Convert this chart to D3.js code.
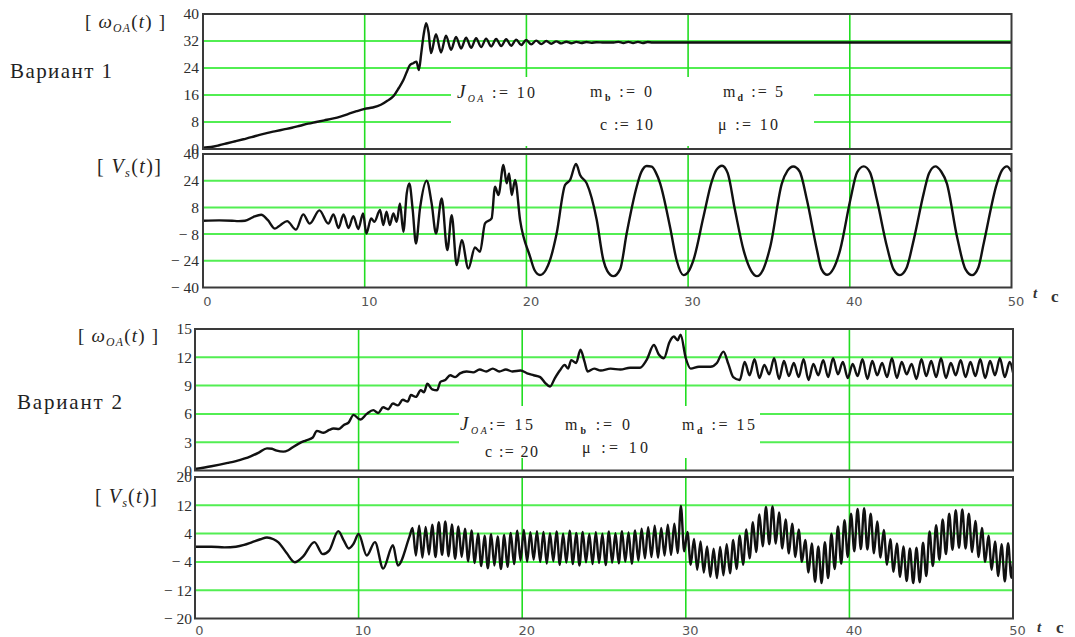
<!DOCTYPE html>
<html>
<head>
<meta charset="utf-8">
<script src="https://cdn.jsdelivr.net/npm/d3@7"></script>
<style>
  body { margin: 0; background: #fff; }
  svg { display: block; }
</style>
</head>
<body>
<div id="chart"></div>
<script>
// ---- data ----
const timeTicks = [0, 10, 20, 30, 40, 50];
const w1Ticks = [0, 8, 16, 24, 32, 40];
const vs1Ticks = [-40, -24, -8, 8, 24, 40];
const w2Ticks = [0, 3, 6, 9, 12, 15];
const vs2Ticks = [-20, -12, -4, 4, 12, 20];

// variant 1, omega_OA
const w1Head = [[0,0.4],[0.5,0.6],[1,1.1],[1.5,1.7],[2,2.3],[2.5,2.9],[3,3.5],[3.5,4.2],[4,4.8],[4.5,5.3],
  [5,5.8],[5.5,6.3],[6,6.9],[6.5,7.5],[7,8.0],[7.5,8.5],[8,9.0],[8.5,9.6],[9,10.4],[9.5,11.2],[10,11.9],
  [10.5,12.3],[11,13.1],[11.4,14.3],[11.8,15.8],[12.1,18.0],[12.4,20.5],[12.6,22.8],[12.8,24.9],[13.0,25.4],
  [13.2,25.9],[13.35,23.4],[13.5,28.5],[13.65,34],[13.8,37.3],[13.95,34.5]];
const w1RipT0 = 14.1, w1RipDt = 0.31;
const w1Rip = [28.4,34.0,28.6,33.6,29.4,33.2,29.8,33.0,30.0,32.8,30.2,32.7,30.4,32.6,30.5,32.5,30.6,32.4,
  30.8,32.3,31.0,32.1,31.1,32.0,31.2,31.9,31.3,31.8,31.35,31.75,31.4,31.7,31.45,31.65];
const w1Tail = [[24.8,31.55],[25.4,31.55],[25.7,31.75],[26.0,31.4],[26.3,31.75],[26.6,31.4],[26.9,31.75],
  [27.2,31.4],[27.5,31.7],[27.8,31.55],[50,31.55]];

// variant 1, V_s
const vs1 = [[0,0],[1,0.2],[1.8,0],[2.2,-0.2],[2.6,0],[3.1,2.2],[3.6,3.6],[4.0,0.5],[4.45,-4.7],[4.8,-2.5],
  [5.2,-0.2],[5.75,-5.3],[6.2,3.8],[6.6,-1.7],[7.2,6.2],[7.75,-1.7],[8.07,3.8],[8.38,-4.3],[8.69,3.8],[9.0,-4.3],
  [9.3,2.8],[9.6,-4.9],[9.9,4.4],[10.1,-7.6],[10.4,1.4],[10.6,-0.6],[10.95,6.4],[11.15,-2.6],[11.35,5.4],
  [11.55,-2.6],[11.77,4.4],[11.98,-0.6],[12.18,10.4],[12.39,-6.6],[12.6,16.4],[12.76,22.4],[12.97,6.4],
  [13.17,-13.6],[13.42,7.4],[13.83,24],[14.14,10.4],[14.41,-7.6],[14.76,13.4],[15.11,-17.6],[15.38,3.4],
  [15.69,-26.6],[16.0,-11.6],[16.41,-28.6],[16.82,-16],[17.13,-18.6],[17.44,-1.6],[17.85,1.4],[18.06,20.4],
  [18.27,15.4],[18.58,33.4],[18.78,22.4],[18.93,28.4],[19.09,15.4],[19.3,24.4],[19.61,0.4],[20.23,-21.6],
  [20.5,-29.5],[20.84,-32.5],[21.2,-29.5],[21.46,-23.6],[21.87,-7.6],[22.39,21.4],[22.7,24.4],[23.07,34],
  [23.32,27.4],[23.73,22.4],[24.35,0.4],[24.76,-23.6],[25.0,-30],[25.38,-33.2],[25.8,-29],[26.2,-7.6],
  [26.82,20.4],[27.1,29],[27.44,32.8],[27.75,32.4],[28.0,29],[28.27,22.4],[28.88,-3.6],[29.3,-24],[29.71,-32.6],
  [30.05,-30],[30.33,-23.6],[30.95,2.4],[31.46,23.4],[31.75,30.5],[32.1,33],[32.45,28.5],[32.9,6.4],
  [33.43,-17.6],[33.9,-30],[34.26,-33.2],[34.65,-29],[35.08,-15.6],[35.8,22.4],[36.15,30],[36.5,32.5],
  [36.9,29.5],[37.35,12.4],[37.97,-17.6],[38.25,-29],[38.6,-32.4],[39.0,-28.5],[39.4,-17.6],[40.03,12.4],
  [40.45,29],[40.86,32.6],[41.25,29],[41.68,12.4],[42.3,-15.6],[42.7,-29],[43.1,-32.6],[43.5,-28.5],
  [43.95,-11.6],[44.57,16.4],[44.9,28.5],[45.29,32.6],[45.65,29.5],[46.0,22.4],[46.63,-9.6],[47.15,-29],
  [47.56,-32.6],[47.95,-28],[48.28,-13.6],[49.1,22.4],[49.4,30],[49.72,32.6],[50,29.4]];

// variant 2, omega_OA
const w2Head = [[0,0.16],[1,0.45],[2,0.8],[2.5,1.0],[3,1.25],[3.4,1.5],[3.9,1.9],[4.4,2.35],[4.7,2.3],[5.0,2.1],
  [5.4,2.0],[5.7,2.15],[6.0,2.5],[6.4,2.9],[6.8,3.2],[7.2,3.5],[7.45,4.2],[7.86,4.0],[8.2,4.3],[8.47,4.45],
  [8.8,4.4],[9.08,4.8],[9.4,5.1],[9.69,5.9],[10.1,5.4],[10.5,6.0],[10.9,6.4],[11.2,6.1],[11.5,6.7],[11.8,6.5],
  [12.1,7.1],[12.4,6.9],[12.7,7.5],[13.0,7.3],[13.2,8.0],[13.5,7.8],[13.8,8.5],[14.0,8.3],[14.2,9.2],[14.5,8.6],
  [14.8,8.5],[15.0,9.4],[15.3,9.6],[15.6,10.1],[15.9,9.9],[16.2,10.3],[16.6,10.5],[17.0,10.4],[17.4,10.7],
  [17.8,10.5],[18.2,10.8],[18.6,10.5],[19.0,10.7],[19.4,10.5],[19.9,10.6],[20.3,10.3],[20.7,10.1],[21.1,9.9],
  [21.4,9.3],[21.7,8.9],[22.0,9.8],[22.3,10.6],[22.6,11.2],[22.8,10.8],[23.0,11.7],[23.3,11.4],[23.56,12.8],
  [23.8,11.6],[24.0,10.5],[24.4,10.8],[24.8,10.6],[25.4,10.8],[26.0,10.7],[26.6,10.9],[27.2,10.9],[27.6,11.7],
  [28.05,13.3],[28.35,12.3],[28.66,11.9],[29.0,13.6],[29.27,14.2],[29.5,13.8],[29.68,14.4],[30.0,11.9],
  [30.3,10.8],[30.8,11.0],[31.5,11.0],[31.9,11.4],[32.3,12.6],[32.6,11.3],[32.9,9.9],[33.3,9.6]];
const w2RipT0 = 33.6, w2RipDt = 0.3;
const w2Rip = [11.5,10.1,11.8,9.8,11.2,10.2,11.9,9.7,11.6,10.0,11.4,9.9,11.8,9.6,11.3,10.1,11.7,9.9,11.9,10.2,
  11.5,9.8,11.3,10.0,11.8,9.7,11.6,10.1,11.4,9.9,11.9,9.8,11.5,10.2,11.3,9.7,11.8,10.0,11.6,9.9,
  11.9,9.8,11.4,10.1,11.7,9.9,11.5,10.0,11.8,9.8,11.6,10.1,11.9,9.9,11.5];
const w2Tail = [[50,10.4]];

// variant 2, V_s
const vs2Head = [[0,0.3],[1,0.3],[1.8,0.1],[2.5,0.3],[3.0,0.8],[3.5,1.6],[4.0,2.4],[4.4,2.9],[4.8,2.4],[5.1,1.5],
  [5.6,-1.5],[6.1,-4.1],[6.6,-2.5],[7.3,1.6],[7.8,-1.8],[8.2,-0.8],[8.76,4.7],[9.1,2.0],[9.4,-0.2],[9.7,1.2],
  [10.0,3.9],[10.5,-2.2],[11.0,1.6],[11.5,-5.9],[12.1,0.7],[12.4,-5.0],[13.1,3.0]];
const vs2ZigT0 = 13.3, vs2ZigDt = 0.2;
const vs2Zig = [
  5.6,-2.2,6.2,-2.8,5.9,-1.9,6.5,-2.6,7.2,-2.0,
  7.4,-2.4,6.6,-3.1,6.0,-2.6,5.4,-3.8,4.9,-4.3,
  4.0,-5.2,3.4,-5.8,3.8,-5.0,3.2,-6.0,3.6,-5.4,
  4.2,-4.6,4.8,-3.6,5.0,-3.9,4.4,-3.4,4.7,-4.0,
  4.5,-4.5,4.1,-3.8,4.6,-4.8,4.0,-4.2,4.8,-4.6,
  4.2,-5.0,4.5,-4.1,3.9,-4.6,4.4,-4.3,4.0,-4.9,
  4.6,-4.2,4.1,-4.4,4.7,-3.9,4.3,-4.5,4.9,-3.6,
  5.4,-3.0,5.8,-2.6,6.2,-2.8,5.6,-2.2,6.5,-2.0,
  6.8,-1.5,11.8,-1.0,4.5,-4.8,2.5,-6.2,1.8,-7.0,
  0.4,-8.2,-0.3,-8.6,0.2,-7.8,1.0,-7.2,2.2,-6.0,
  3.5,-4.8,5.2,-3.0,7.2,-1.2,9.4,0.4,11.5,1.0,
  11.7,1.2,10.0,-0.2,8.0,-1.6,6.8,-2.6,5.2,-4.0,
  2.2,-7.0,1.2,-9.6,0.4,-10.0,1.6,-8.6,4.0,-6.0,
  6.0,-4.5,7.8,-2.6,9.6,-1.0,11.0,-0.4,11.2,-0.5,
  9.6,-1.6,7.4,-2.8,5.0,-4.8,2.4,-6.8,1.2,-8.2,
  0.4,-9.4,-0.2,-10.0,0.0,-9.8,1.4,-8.0,4.6,-5.2,
  6.4,-3.4,8.0,-1.8,9.6,-0.6,10.6,0.0,10.8,-0.2,
  9.6,-1.2,7.6,-2.6,5.6,-4.0,3.4,-6.2,1.8,-8.0,
  1.0,-9.5,1.3,-8.5];
const vs2Tail = [[50,-4]];

// ---- drawing ----
const width = 1075, height = 637;
const serif = "'Liberation Serif', 'Times New Roman', serif";
const sans = "'DejaVu Sans', Verdana, sans-serif";

const svg = d3.select("#chart").append("svg")
  .attr("width", width)
  .attr("height", height);

// sampled stretches come with a start time and a step
function sampled(t0, dt, values) {
  return values.map((v, i) => [t0 + i * dt, v]);
}

const panels = [
  { id: "p1", box: [203, 14, 1011.5, 149], yTicks: w1Ticks, pad: 4,
    data: w1Head.concat(sampled(w1RipT0, w1RipDt, w1Rip), w1Tail),
    xLabels: false, blank: [451, 77, 814, 146] },
  { id: "p2", box: [203, 154, 1011.5, 287.5], yTicks: vs1Ticks, pad: 4,
    data: vs1, xLabels: true, labelPad: 9 },
  { id: "p3", box: [195, 329, 1013, 470.5], yTicks: w2Ticks, pad: 3,
    data: w2Head.concat(sampled(w2RipT0, w2RipDt, w2Rip), w2Tail),
    xLabels: false, blank: [459, 406, 760, 458] },
  { id: "p4", box: [195, 477, 1013, 618.5], yTicks: vs2Ticks, pad: 3,
    data: vs2Head.concat(sampled(vs2ZigT0, vs2ZigDt, vs2Zig), vs2Tail),
    xLabels: true, labelPad: 7.5 }
];

const fmt = d => d < 0 ? "\u2212 " + Math.abs(d) : String(d);

panels.forEach(p => {
  const [x0, y0, x1, y1] = p.box;
  const x = d3.scaleLinear().domain([0, 50]).range([x0, x1]);
  const y = d3.scaleLinear().domain(d3.extent(p.yTicks)).range([y1, y0]);
  const g = svg.append("g");

  // grid
  g.append("g").selectAll("line")
    .data(p.yTicks.slice(1, -1))
    .join("line")
    .attr("x1", x0).attr("x2", x1)
    .attr("y1", d => y(d)).attr("y2", d => y(d))
    .attr("stroke", "#52ee52").attr("stroke-width", 2);
  g.append("g").selectAll("line")
    .data(timeTicks.slice(1, -1))
    .join("line")
    .attr("x1", d => x(d)).attr("x2", d => x(d))
    .attr("y1", y0).attr("y2", y1)
    .attr("stroke", "#22dd22").attr("stroke-width", 1.6);

  // white patch where the parameters are printed
  if (p.blank) {
    const [bx0, by0, bx1, by1] = p.blank;
    g.append("rect")
      .attr("x", bx0).attr("y", by0)
      .attr("width", bx1 - bx0).attr("height", by1 - by0)
      .attr("fill", "#fff");
  }

  // curve
  g.append("clipPath").attr("id", "clip-" + p.id)
    .append("rect").attr("x", x0).attr("y", y0).attr("width", x1 - x0).attr("height", y1 - y0);
  const line = d3.line()
    .x(d => x(d[0]))
    .y(d => y(d[1]))
    .curve(d3.curveMonotoneX);
  g.append("path")
    .datum(p.data)
    .attr("clip-path", "url(#clip-" + p.id + ")")
    .attr("d", line)
    .attr("fill", "none")
    .attr("stroke", "#111")
    .attr("stroke-width", 2.4)
    .attr("stroke-linejoin", "round");

  // frame
  g.append("rect")
    .attr("x", x0).attr("y", y0)
    .attr("width", x1 - x0).attr("height", y1 - y0)
    .attr("fill", "none").attr("stroke", "#3a3a3a").attr("stroke-width", 2);

  // y labels
  const ya = g.append("g").attr("transform", `translate(${x0},0)`)
    .call(d3.axisLeft(y).tickValues(p.yTicks).tickSize(0).tickPadding(p.pad).tickFormat(fmt));
  ya.select(".domain").remove();
  ya.selectAll("text").attr("font-family", serif).attr("font-size", 15.5).attr("fill", "#2e2e2e");

  // x labels
  if (p.xLabels) {
    const xa = g.append("g").attr("transform", `translate(0,${y1})`)
      .call(d3.axisBottom(x).tickValues(timeTicks).tickSize(0).tickPadding(p.labelPad));
    xa.select(".domain").remove();
    xa.selectAll("text").attr("font-family", sans).attr("font-size", 13)
      .attr("fill", "#555").attr("dx", 4);
  }
});

// mathcad style text, stretched to the width seen in the picture
function mathText(x, y, parts, size, len, anchor) {
  const t = svg.append("text")
    .attr("x", x).attr("y", y)
    .attr("font-family", serif)
    .attr("font-size", size)
    .attr("fill", "#262320")
    .attr("text-anchor", anchor || "start");
  if (len) t.attr("textLength", len).attr("lengthAdjust", "spacing");
  let shift = 0;
  parts.forEach(p => {
    const s = p.sub ? 4 : 0;
    t.append("tspan")
      .attr("dy", s - shift)
      .attr("font-style", p.it ? "italic" : null)
      .attr("font-weight", p.bold ? "bold" : null)
      .attr("font-size", p.sub ? size * 0.62 : (p.size || null))
      .text(p.t);
    shift = s;
  });
}

const omegaLabel = [{t: "[ "}, {t: "\u03c9", it: true}, {t: "OA", it: true, sub: true}, {t: "("}, {t: "t", it: true}, {t: ") ]"}];
const vsLabel = [{t: "[ "}, {t: "V", it: true}, {t: "s", it: true, sub: true}, {t: "("}, {t: "t", it: true}, {t: ")]"}];

mathText(85, 28, omegaLabel, 19, 80);
mathText(97, 173, vsLabel, 20, 64);
mathText(78, 342, omegaLabel, 19, 80);
mathText(95, 503, vsLabel, 20, 62);

// variant titles
svg.append("text").attr("x", 10).attr("y", 78)
  .attr("font-family", serif).attr("font-size", 21).attr("fill", "#222")
  .attr("textLength", 102).attr("lengthAdjust", "spacing")
  .text("Вариант 1");
svg.append("text").attr("x", 17).attr("y", 409)
  .attr("font-family", serif).attr("font-size", 21).attr("fill", "#222")
  .attr("textLength", 105).attr("lengthAdjust", "spacing")
  .text("Вариант 2");

// parameters, variant 1
mathText(457, 98, [{t: "J", it: true, size: 19}, {t: "OA", it: true, sub: true}, {t: " := 10"}], 16, 78);
mathText(590, 97, [{t: "m"}, {t: "b", sub: true, bold: true}, {t: " := 0"}], 16, 62);
mathText(723, 97, [{t: "m"}, {t: "d", sub: true, bold: true}, {t: " := 5"}], 16, 60);
mathText(600, 130, [{t: "c := 10"}], 16, 53);
mathText(718, 130, [{t: "\u03bc := 10"}], 16, 60);

// parameters, variant 2
mathText(460, 430, [{t: "J", it: true, size: 19}, {t: "OA", it: true, sub: true}, {t: ":= 15"}], 16, 73);
mathText(565, 430, [{t: "m"}, {t: "b", sub: true, bold: true}, {t: " := 0"}], 16, 65);
mathText(682, 430, [{t: "m"}, {t: "d", sub: true, bold: true}, {t: " := 15"}], 16, 73);
mathText(485, 457, [{t: "c := 20"}], 16, 53);
mathText(582, 453, [{t: "\u03bc   := 10"}], 16, 66);

// time unit
[[1033, 298, 1051, 302], [1037, 632, 1056, 633]].forEach(([tx, ty, cx, cy]) => {
  svg.append("text").attr("x", tx).attr("y", ty)
    .attr("font-family", serif).attr("font-style", "italic").attr("font-weight", "bold")
    .attr("font-size", 15).attr("fill", "#333").text("t");
  svg.append("text").attr("x", cx).attr("y", cy)
    .attr("font-family", serif).attr("font-weight", "bold")
    .attr("font-size", 17).attr("fill", "#333").text("с");
});
</script>
</body>
</html>
